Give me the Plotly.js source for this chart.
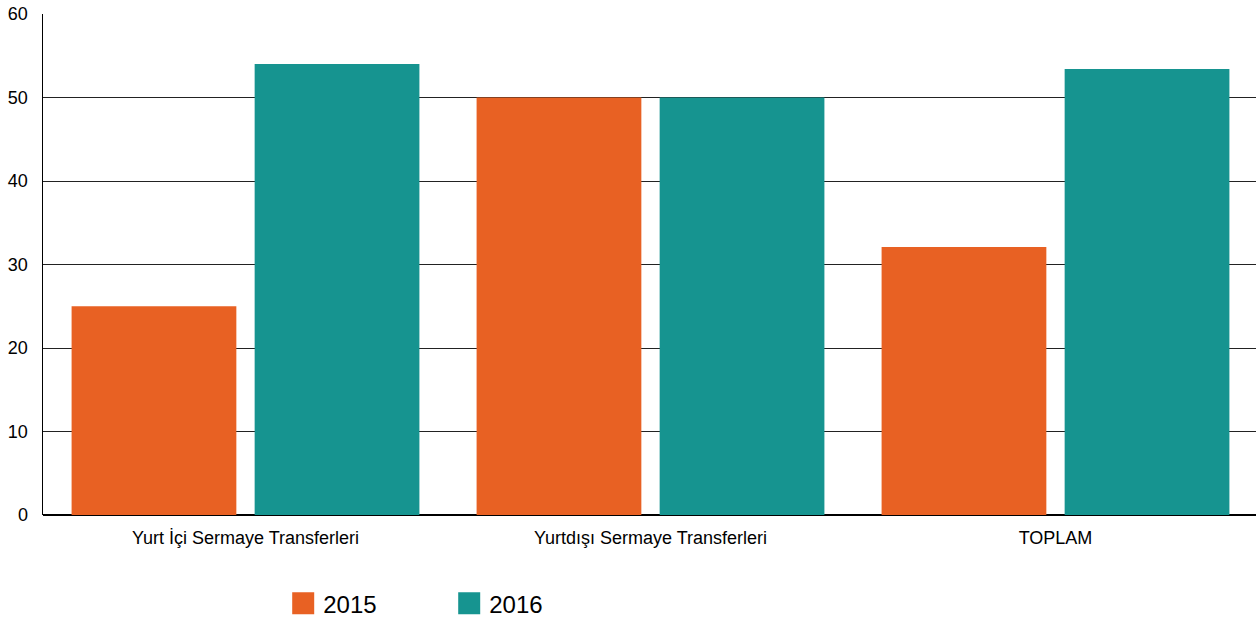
<!DOCTYPE html>
<html>
<head>
<meta charset="utf-8">
<script src="https://cdn.plot.ly/plotly-3.0.1.min.js"></script>
<style>html,body{margin:0;padding:0;background:#fff;overflow:hidden;}#chart{width:1258px;height:618px;}</style>
</head>
<body>
<div id="chart"></div>
<script>
const categories = ["Yurt İçi Sermaye Transferleri", "Yurtdışı Sermaye Transferleri", "TOPLAM"];
const seriesNames = ["2015", "2016"];
const values2015 = [25.0, 50.0, 32.1];
const values2016 = [54.0, 50.0, 53.4];
const yTicks = [0, 10, 20, 30, 40, 50, 60];
const colors = ["#E86123", "#169490"];

const font = "Arial, 'Liberation Sans', sans-serif";
const traces = [values2015, values2016].map((vals, i) => ({
  type: "bar",
  name: seriesNames[i],
  x: categories,
  y: vals,
  marker: {color: colors[i], line: {width: 0}},
  hoverinfo: "none"
}));

const layout = {
  width: 1258, height: 618,
  margin: {l: 43, r: 0, t: 14, b: 103, pad: 0, autoexpand: false},
  paper_bgcolor: "#fff", plot_bgcolor: "#fff",
  barmode: "group", bargap: 0.096, bargroupgap: 0.1,
  font: {family: font, color: "#000"},
  showlegend: true,
  legend: {
    orientation: "h", x: 0.1977, xanchor: "left", y: -0.177, yanchor: "middle",
    font: {size: 24, color: "#000", family: font},
    entrywidth: 121, traceorder: "normal", itemclick: false, itemdoubleclick: false
  },
  xaxis: {
    type: "category", tickfont: {size: 18, color: "#000"},
    showgrid: false, showline: false, ticks: "", ticklabelstandoff: 10
  },
  yaxis: {
    range: [0, 60], tickvals: yTicks, ticktext: yTicks.map(String),
    tickfont: {size: 18, color: "#000"},
    showgrid: true, gridcolor: "#222", gridwidth: 1,
    zeroline: true, zerolinecolor: "#000", zerolinewidth: 2,
    showline: true, linecolor: "#000", linewidth: 1.5,
    ticks: "", ticklabelstandoff: 10
  }
};

Plotly.newPlot("chart", traces, layout, {staticPlot: true, displayModeBar: false}).then(() => {
  document.querySelectorAll("#chart .legendpoints path").forEach(p => {
    p.setAttribute("d", "M11,11H-11V-11H11Z");
    p.style.strokeWidth = "0";
  });
});
</script>
</body>
</html>
